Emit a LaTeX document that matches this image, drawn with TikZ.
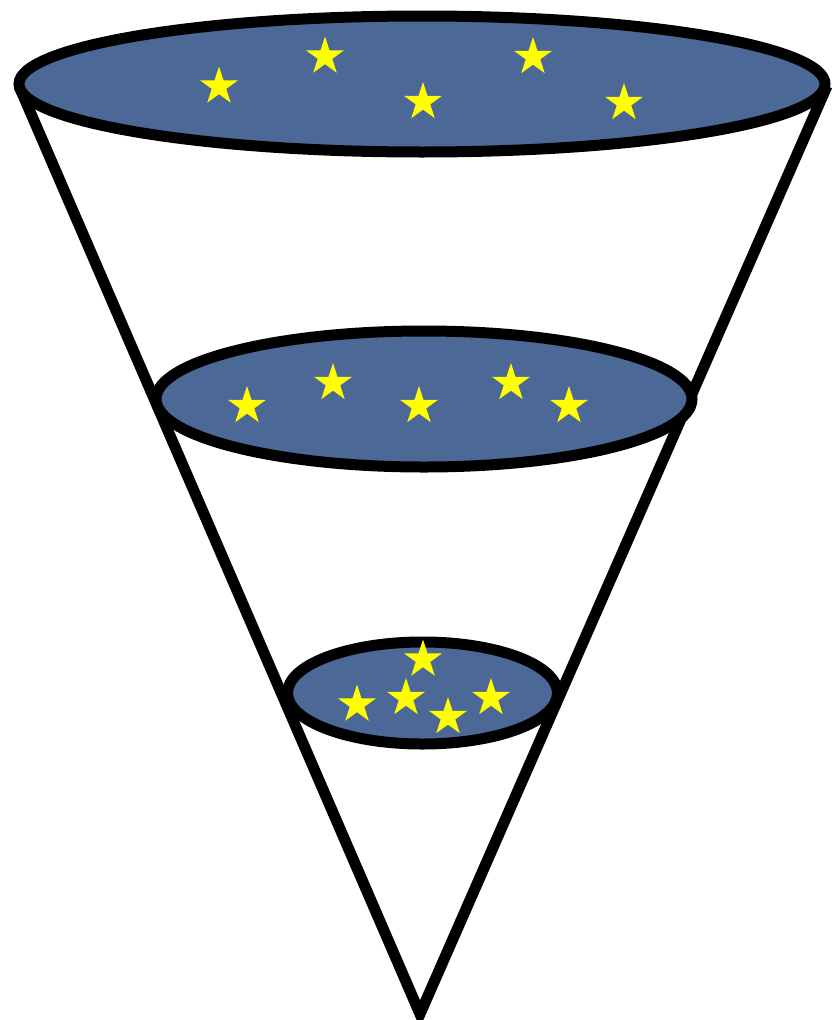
\documentclass[tikz,border=0pt]{standalone}
\usetikzlibrary{shapes.geometric}
\definecolor{capblue}{RGB}{76,104,150}
\definecolor{staryellow}{RGB}{255,255,0}
\tikzset{
  disc/.style={fill=capblue, draw=black, line width=11pt},
  coneline/.style={draw=black, line width=11pt, line join=miter},
  starmark/.style={star, star points=5, star point ratio=2.618, minimum size=40pt, inner sep=0pt, fill=staryellow, draw=none}
}
\begin{document}
\begin{tikzpicture}[x=1pt,y=-1pt]
\useasboundingbox (0,0) rectangle (831,1020);
\coordinate (tl) at (19,86);
\coordinate (tr) at (827,86);
\coordinate (apex) at (420,1014);
\draw[coneline] (tl) -- (apex) -- (tr);
% discs
\draw[disc] (422,84) ellipse [x radius=403pt, y radius=68pt];
\draw[disc] (424,399) ellipse [x radius=268pt, y radius=68pt];
\draw[disc] (422.5,693) ellipse [x radius=135pt, y radius=51pt];
% top stars
\node[starmark] (t1) at (219,86.5) {};
\node[starmark] (t2) at (325,56.5) {};
\node[starmark] (t3) at (423,102) {};
\node[starmark] (t4) at (533,57) {};
\node[starmark] (t5) at (624,103) {};
% middle stars
\node[starmark] (m1) at (247,406) {};
\node[starmark] (m2) at (333,383) {};
\node[starmark] (m3) at (419,406) {};
\node[starmark] (m4) at (511,383) {};
\node[starmark] (m5) at (569,406) {};
% bottom stars
\node[starmark] (b1) at (423,659.5) {};
\node[starmark] (b2) at (357,704.5) {};
\node[starmark] (b3) at (406,698) {};
\node[starmark] (b4) at (448,717) {};
\node[starmark] (b5) at (491,698) {};
\end{tikzpicture}
\end{document}
